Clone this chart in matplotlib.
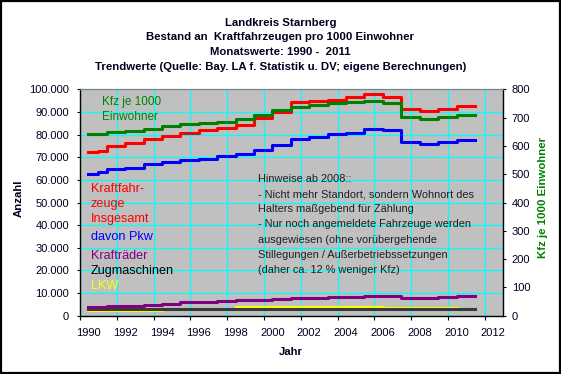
import numpy as np
import matplotlib
matplotlib.use('Agg')
import matplotlib.pyplot as plt
from matplotlib.ticker import FixedLocator, FuncFormatter, MultipleLocator
from matplotlib.patches import Rectangle

plt.rcParams['font.family'] = ['Liberation Sans', 'DejaVu Sans']

# ---- data (step values, valid from the given time until the next one) ----
zeit = [1990, 1990.5, 1991, 1992, 1993, 1994, 1995, 1996, 1997, 1998, 1999,
        2000, 2001, 2002, 2003, 2004, 2005, 2006, 2007, 2008, 2009, 2010, 2011]

kfz_gesamt = [72400, 72900, 74800, 76100, 78000, 79500, 80800, 81900, 83000, 84400, 87200,
              90000, 94200, 94800, 95400, 96500, 97900, 96600, 91200, 90300, 91400, 92700, 92700]
pkw = [62700, 63400, 64700, 65400, 66900, 67800, 68600, 69400, 70400, 71500, 73000,
       75500, 77900, 79000, 80100, 80900, 82600, 82200, 76900, 76000, 76800, 77700, 77700]
kraftraeder = [3800, 3800, 4300, 4400, 4850, 5300, 5900, 5900, 6300, 6800, 7100,
               7500, 7950, 7950, 8400, 8400, 8800, 8800, 7800, 7800, 8250, 8800, 8800]
zugmaschinen = [2850, 2850, 2850, 2850, 2850, 2850, 2900, 2900, 2900, 2900, 2900,
                2950, 2950, 2950, 3000, 3000, 3000, 3000, 3000, 3000, 3000, 3050, 3050]
lkw = [2300, 2300, 2300, 2300, 2300, None, None, None, None, 3700, 3700,
       3700, 4000, 4000, 4000, 4000, 4000, 3450, 3450, 3450, 3450, None, None]
kfz_je_1000 = [642, 642, 648, 653, 659, 670, 677, 682, 685, 695, 709,
               726, 739, 744, 750, 755, 760, 753, 703, 696, 703, 710, 710]

titel = ["Landkreis Starnberg",
         "Bestand an  Kraftfahrzeugen pro 1000 Einwohner",
         "Monatswerte: 1990 -  2011",
         "Trendwerte (Quelle: Bay. LA f. Statistik u. DV; eigene Berechnungen)"]
titel_y = [23.3, 37.0, 52.0, 66.7]
hinweis = ["Hinweise ab 2008::",
           "- Nicht mehr Standort, sondern Wohnort des",
           "Halters maßgebend für Zählung",
           "- Nur noch angemeldete Fahrzeuge werden",
           "ausgewiesen (ohne vorübergehende",
           "Stillegungen / Außerbetriebssetzungen",
           "(daher ca. 12 % weniger Kfz)"]
x_labels = [1990, 1992, 1994, 1996, 1998, 2000, 2002, 2004, 2006, 2008, 2010, 2012]

W, H = 561, 374
fig = plt.figure(figsize=(W / 100, H / 100), dpi=100)
fig.patch.set_facecolor('white')

def fx(px):
    return px / W

def fy(py):
    return 1 - py / H

L, R, T, B = 80, 502.7, 89.3, 315.7
ax = fig.add_axes([fx(L), fy(B), (R - L) / W, (B - T) / H])
ax.set_facecolor('#C0C0C0')
ax2 = ax.twinx()

txtc = '#000020'
fs = 8.2
tick_fs = 8.0
lw = 2.2

x = np.array(zeit, dtype=float)
ax.plot(x, np.array(lkw, dtype=float), drawstyle='steps-post', color='#FFFF00', lw=lw, zorder=3)
ax.plot(x, np.array(zugmaschinen, dtype=float), drawstyle='steps-post', color='#3A3A3A', lw=lw, zorder=4)
ax.plot(x, np.array(kraftraeder, dtype=float), drawstyle='steps-post', color='#800080', lw=lw, zorder=4)
ax.plot(x, np.array(pkw, dtype=float), drawstyle='steps-post', color='#0000FF', lw=lw, zorder=4)
ax.plot(x, np.array(kfz_gesamt, dtype=float), drawstyle='steps-post', color='#FF0000', lw=lw, zorder=4)
ax2.plot(x, np.array(kfz_je_1000, dtype=float), drawstyle='steps-post', color='#008000', lw=lw, zorder=4)

xmin, xmax = 1989.54, 2012.51
ax.set_xlim(xmin, xmax)
ax.set_ylim(0, 100000)
ax2.set_ylim(0, 800)

major_x = [xmin + 2 * k for k in range(12)]
ax.xaxis.set_major_locator(FixedLocator(major_x))
ax.xaxis.set_major_formatter(FuncFormatter(lambda v, p: ''))
ax.xaxis.set_minor_locator(FixedLocator(x_labels))
ax.xaxis.set_minor_formatter(FuncFormatter(lambda v, p: f"{int(round(v))}"))
ax.tick_params(axis='x', which='major', direction='out', length=3.0, width=0.8, color='black')
ax.tick_params(axis='x', which='minor', length=0, pad=8.5, labelsize=tick_fs, labelcolor=txtc)

ax.yaxis.set_major_locator(MultipleLocator(10000))
ax.yaxis.set_major_formatter(FuncFormatter(lambda v, p: f"{int(v):,}".replace(',', '.')))
ax.tick_params(axis='y', direction='out', length=2.5, width=0.8, pad=5.5, labelsize=tick_fs, labelcolor=txtc)
ax2.yaxis.set_major_locator(MultipleLocator(100))
ax2.tick_params(axis='y', direction='out', length=2.5, width=0.8, pad=4, labelsize=tick_fs, labelcolor=txtc)

ax.grid(True, which='major', color='#00FFFF', lw=0.9, zorder=1)
ax.set_axisbelow(True)
for s in ['left', 'bottom']:
    ax.spines[s].set_color('black')
    ax.spines[s].set_linewidth(1.0)
ax.spines['top'].set_color('#808080')
ax.spines['right'].set_visible(False)
ax2.spines['right'].set_color('black')
ax2.spines['right'].set_linewidth(1.0)
ax2.spines['top'].set_color('#808080')
ax2.spines['left'].set_visible(False)
ax2.spines['bottom'].set_visible(False)

# titles
for t, py in zip(titel, titel_y):
    fig.text(fx(280.5), fy(py), t, ha='center', va='center',
             fontsize=fs, fontweight='bold', color=txtc)

# axis labels
fig.text(fx(18.5), fy(198), 'Anzahl', rotation=90, ha='center', va='center',
         fontsize=fs, fontweight='bold', color=txtc)
fig.text(fx(542.5), fy(197), 'Kfz je 1000 Einwohner', rotation=90, ha='center', va='center',
         fontsize=fs, fontweight='bold', color='#008000')
fig.text(fx(291), fy(352), 'Jahr', ha='center', va='center',
         fontsize=fs, fontweight='bold', color=txtc)

# in-plot legend labels
legend_items = [("Kfz je 1000", 101.7, 102.3, '#008000', 8.5),
                ("Einwohner", 101.7, 116.7, '#008000', 8.5),
                ("Kraftfahr-", 90.7, 189.3, '#FF0000', 9.1),
                ("zeuge", 90.7, 204.3, '#FF0000', 9.1),
                ("Insgesamt", 90.7, 218.7, '#FF0000', 9.1),
                ("davon Pkw", 91, 236.7, '#0000FF', 9.1),
                ("Krafträder", 91, 255.7, '#800080', 9.1),
                ("Zugmaschinen", 91, 271, '#000000', 9.1),
                ("LKW", 91, 286, '#FFFF00', 9.1)]
for t, px, py, c, s in legend_items:
    fig.text(fx(px), fy(py), t, ha='left', va='center', fontsize=s, color=c)

# note
for i, t in enumerate(hinweis):
    fig.text(fx(258), fy(179 + 15.15 * i), t, ha='left', va='center', fontsize=fs - 0.3, color='#202020')

# figure frame
fig.patches.append(Rectangle((0.0015, 0.002), 0.997, 0.996, transform=fig.transFigure,
                             fill=False, edgecolor='black', lw=1.6))

fig.savefig('out.png', dpi=100)
